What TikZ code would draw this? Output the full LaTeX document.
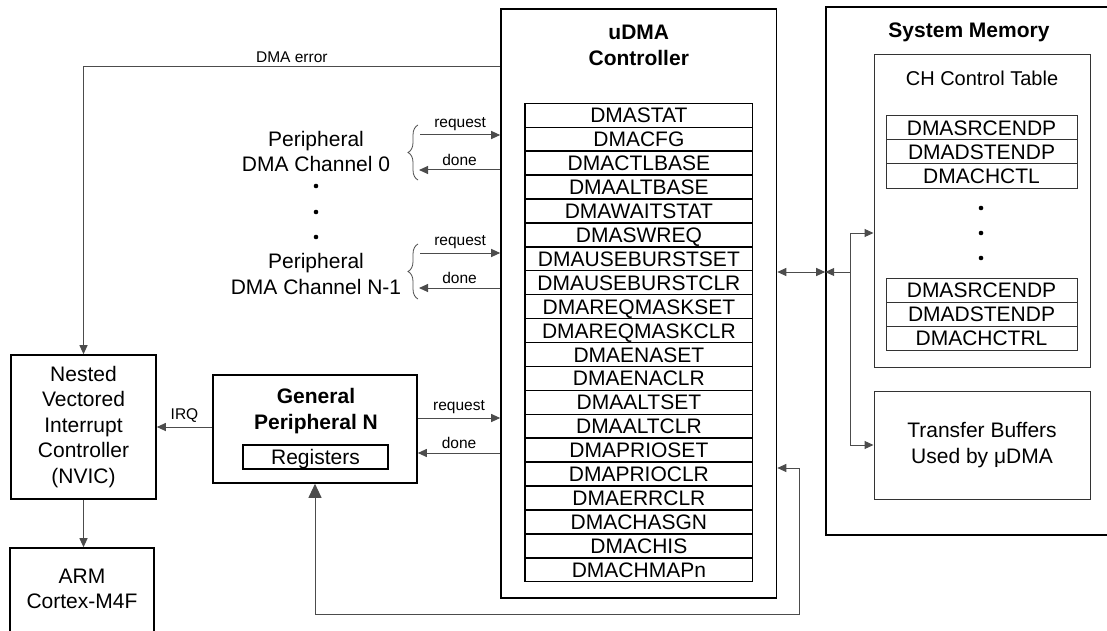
\documentclass[tikz,border=0pt]{standalone}
\usepackage{fontspec}
\setmainfont{Liberation Sans}
\usetikzlibrary{arrows.meta,decorations.pathreplacing}

\newcommand{\regfont}{\fontsize{21}{25.5}\selectfont}
\newcommand{\tblfont}{\fontsize{20}{25}\selectfont}
\newcommand{\lblfont}{\fontsize{15.5}{18}\selectfont}
\newcommand{\ttlfont}{\fontsize{21}{25.5}\selectfont\bfseries}

\begin{document}
\begin{tikzpicture}[x=1pt,y=-1pt,
	blk/.style = {draw = black, line width = 1.6pt, inner sep = 0pt},
	thin/.style = {draw = black!80, line width = 1pt, inner sep = 0pt},
	reg/.style = {draw = black, line width = 1.4pt, inner sep = 0pt, minimum width = 227.7pt, minimum height = 23.92pt, text height = 15pt, text depth = 0pt, font = \regfont},
	chrow/.style = {thin, minimum width = 191pt, minimum height = 24pt, text height = 15pt, text depth = 0pt, font = \regfont},
	txt/.style = {align = center, inner sep = 0pt, font = \regfont},
	ttl/.style = {align = center, inner sep = 0pt, font = \ttlfont},
	lbl/.style = {inner sep = 4pt, font = \lblfont},
	conn/.style = {draw = black!70, line width = 1pt},
	arr/.style = {conn, -{Triangle[length = 9pt, width = 8pt]}},
	arr2/.style = {conn, {Triangle[length = 9pt, width = 8pt]}-{Triangle[length = 9pt, width = 8pt]}},
	fbk/.style = {conn, {Triangle[length = 14pt, width = 13pt]}-{Triangle[length = 9pt, width = 8pt]}},
	brc/.style = {draw = black!70, line width = 0.8pt, decorate, decoration = {brace, amplitude = 10pt}}]
	\useasboundingbox (0,0) rectangle (1107,631);

	\node (udma)	at (638.75, 303.5)	[blk, minimum width = 275.5pt, minimum height = 589pt]	{};
	\node (udmaT)	at (638.75,  45.5)	[ttl]	{uDMA\\Controller};
	\node (r1)	at (638.9, 115.3)	[reg]	{DMASTAT};
	\node (r2)	at (638.9, 139.2)	[reg]	{DMACFG};
	\node (r3)	at (638.9, 163.1)	[reg]	{DMACTLBASE};
	\node (r4)	at (638.9, 187.0)	[reg]	{DMAALTBASE};
	\node (r5)	at (638.9, 210.9)	[reg]	{DMAWAITSTAT};
	\node (r6)	at (638.9, 234.9)	[reg]	{DMASWREQ};
	\node (r7)	at (638.9, 258.8)	[reg]	{DMAUSEBURSTSET};
	\node (r8)	at (638.9, 282.7)	[reg]	{DMAUSEBURSTCLR};
	\node (r9)	at (638.9, 306.6)	[reg]	{DMAREQMASKSET};
	\node (r10)	at (638.9, 330.5)	[reg]	{DMAREQMASKCLR};
	\node (r11)	at (638.9, 354.5)	[reg]	{DMAENASET};
	\node (r12)	at (638.9, 378.4)	[reg]	{DMAENACLR};
	\node (r13)	at (638.9, 402.3)	[reg]	{DMAALTSET};
	\node (r14)	at (638.9, 426.2)	[reg]	{DMAALTCLR};
	\node (r15)	at (638.9, 450.1)	[reg]	{DMAPRIOSET};
	\node (r16)	at (638.9, 474.1)	[reg]	{DMAPRIOCLR};
	\node (r17)	at (638.9, 498.0)	[reg]	{DMAERRCLR};
	\node (r18)	at (638.9, 521.9)	[reg]	{DMACHASGN};
	\node (r19)	at (638.9, 545.8)	[reg]	{DMACHIS};
	\node (r20)	at (638.9, 569.8)	[reg]	{DMACHMAPn};

	\node (sysmem)	at (969, 271)	[blk, minimum width = 286pt, minimum height = 528pt]	{};
	\node (sysT)	at (969,  32)	[ttl]	{System Memory};
	\node (chtab)	at (982, 211)	[thin, minimum width = 216pt, minimum height = 312pt]	{};
	\node (chT)	at (982,  78)	[txt, font = \tblfont]	{CH Control Table};
	\node (c1)	at (981.5, 128)	[chrow]	{DMASRCENDP};
	\node (c2)	at (981.5, 152)	[chrow]	{DMADSTENDP};
	\node (c3)	at (981.5, 176)	[chrow]	{DMACHCTL};
	\node (c4)	at (981.5, 290)	[chrow]	{DMASRCENDP};
	\node (c5)	at (981.5, 314)	[chrow]	{DMADSTENDP};
	\node (c6)	at (981.5, 338)	[chrow]	{DMACHCTRL};
	\node (tbuf)	at (982, 445)	[thin, minimum width = 216pt, minimum height = 108pt, txt]	{Transfer Buffers\\Used by μDMA};

	\node (nvic)	at (83.5, 427)	[blk, minimum width = 145pt, minimum height = 144pt, txt]	{Nested\\Vectored\\Interrupt\\Controller\\(NVIC)};
	\node (arm)	at (82, 598)	[blk, minimum width = 144pt, minimum height = 100pt]	{};
	\node (armT)	at (82, 589)	[txt]	{ARM\\Cortex-M4F};
	\node (gpn)	at (315, 429)	[blk, minimum width = 204pt, minimum height = 108pt]	{};
	\node (gpnT)	at (316, 411)	[ttl]	{General\\Peripheral N};
	\node (gpnReg)	at (315.5, 457)	[blk, line width = 1.4pt, minimum width = 145pt, minimum height = 24pt, text height = 15pt, text depth = 0pt, font = \regfont]	{Registers};

	\node (pch0)	at (316, 151.5)	[txt]	{Peripheral\\DMA Channel 0};
	\node (pchN)	at (316, 274)	[txt]	{Peripheral\\DMA Channel N-1};
	\fill (316, 186) circle (2.3);
	\fill (316, 212) circle (2.3);
	\fill (316, 237) circle (2.3);
	\fill (981, 208) circle (2.3);
	\fill (981, 233) circle (2.3);
	\fill (981, 258) circle (2.3);

	\coordinate (errY)	at (0, 67);
	\coordinate (q0)	at (420, 135);
	\coordinate (d0)	at (419, 170);
	\coordinate (qN)	at (420, 253);
	\coordinate (dN)	at (419, 288);
	\coordinate (irqY)	at (0, 427);
	\coordinate (gq)	at (0, 418);
	\coordinate (gd)	at (0, 453);
	\coordinate (bus)	at (850, 272);
	\coordinate (chIn)	at (850, 233);
	\coordinate (fbIn)	at (799, 468);
	\coordinate (fbLow)	at (799, 614);

	\draw[arr] (udma.west |- errY) -| (nvic.north) node[pos = 0.25, above, lbl] {DMA error};
	\draw[arr] (nvic.south) -- (nvic.south |- arm.north);
	\draw[arr] (gpn.west |- irqY) -- (nvic.east |- irqY) node[midway, above, lbl] {IRQ};
	\draw[arr] (gpn.east |- gq) -- (udma.west |- gq) node[midway, above, lbl] {request};
	\draw[arr] (udma.west |- gd) -- (gpn.east |- gd) node[midway, above, lbl] {done};

	\draw[brc] (418, 180) -- (418, 125);
	\draw[brc] (418, 299) -- (418, 244);
	\draw[arr] (q0) -- (udma.west |- q0) node[midway, above, lbl] {request};
	\draw[arr] (udma.west |- d0) -- (d0) node[midway, above, lbl] {done};
	\draw[arr] (qN) -- (udma.west |- qN) node[midway, above, lbl] {request};
	\draw[arr] (udma.west |- dN) -- (dN) node[midway, above, lbl] {done};

	\draw[arr2] (udma.east |- bus) -- (sysmem.west |- bus);
	\draw[arr] (bus) -- (sysmem.west |- bus);
	\draw[arr] (bus) |- (chtab.west |- chIn);
	\draw[arr] (bus) |- (tbuf.west);

	\draw[fbk] (gpn.south) |- (fbLow) -- (fbIn) -- (udma.east |- fbIn);
\end{tikzpicture}
\end{document}
